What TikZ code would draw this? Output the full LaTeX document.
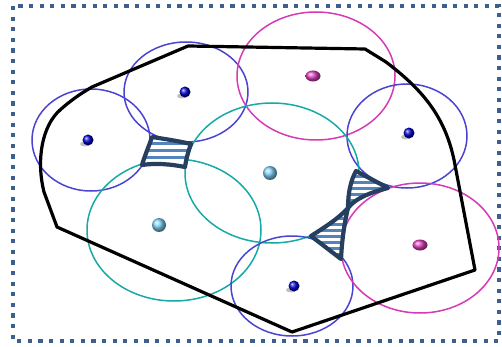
\documentclass[tikz,border=0pt]{standalone}
\usetikzlibrary{shapes.geometric}
\definecolor{bord}{HTML}{3D5F8F}
\definecolor{cblue}{HTML}{4B44D2}
\definecolor{cmag}{HTML}{D43BB4}
\definecolor{cteal}{HTML}{17A9A6}
\definecolor{navy}{HTML}{263F5E}
\definecolor{stripe}{HTML}{5584BD}
\definecolor{lball}{HTML}{7FD2F8}
\definecolor{mballc}{HTML}{E040C0}
\begin{document}
\begin{tikzpicture}[x=1pt,y=-1pt,
  zone/.style={line width=1.5pt},
  hull/.style={line width=3.2pt, black, line join=round},
  gap/.style={line width=4.2pt, navy, line join=round},
  dball/.style={circle, inner sep=0pt, minimum size=11pt, shading=ball, ball color=blue!80!black},
  lblue/.style={circle, inner sep=0pt, minimum size=14pt, shading=ball, ball color=lball},
  mball/.style={ellipse, inner sep=0pt, minimum width=15pt, minimum height=11pt, shading=ball, ball color=mballc},
  shad/.style={fill=black!45, opacity=0.55}]
\useasboundingbox (0,0) rectangle (502,347);
% border
\draw[bord, line width=4.2pt, dash pattern=on 4.2pt off 6.4pt] (13,6) rectangle (499,341);
% coverage zones
\draw[zone, cblue] (91,140) ellipse [x radius=59pt, y radius=51pt];
\draw[zone, cblue] (186,92) ellipse [x radius=62pt, y radius=50pt];
\draw[zone, cmag] (316,76) ellipse [x radius=79pt, y radius=64pt];
\draw[zone, cblue] (407,136) ellipse [x radius=60pt, y radius=52pt];
\draw[zone, cteal] (272,173) ellipse [x radius=87pt, y radius=70pt];
\draw[zone, cteal] (174,230) ellipse [x radius=87pt, y radius=71pt];
\draw[zone, cblue] (292,286) ellipse [x radius=61pt, y radius=50pt];
\draw[zone, cmag] (420,248) ellipse [x radius=79pt, y radius=65pt];
% area boundary
\draw[hull] (188,46) -- (365,49) -- (386,62) .. controls (420,88) and (446,115) .. (455,165)
  -- (475,270) -- (292,332) -- (57,227) -- (44,192) .. controls (36,160) and (42,126) .. (60,110)
  .. controls (70,101) and (80,94) .. (92,87) -- cycle;
% left coverage hole
\begin{scope}
  \clip (152,137) .. controls (165,139) and (178,141) .. (191,144) .. controls (188,152) and (186,160) .. (185,167)
    .. controls (170,164) and (155,163) .. (142,165) .. controls (145,155) and (149,146) .. (152,137) -- cycle;
  \fill[white] (130,120) rectangle (200,180);
  \foreach \yy in {142,149,156} {\fill[stripe] (130,\yy) rectangle (200,\yy+3.4);}
\end{scope}
\draw[gap] (152,137) .. controls (165,139) and (178,141) .. (191,144) .. controls (188,152) and (186,160) .. (185,167)
    .. controls (170,164) and (155,163) .. (142,165) .. controls (145,155) and (149,146) .. (152,137) -- cycle;
% right coverage hole (bow tie)
\begin{scope}
  \clip (356,171) -- (388,188) .. controls (368,193) and (355,199) .. (348,208) .. controls (348,192) and (351,180) .. (356,171) -- cycle;
  \fill[white] (340,165) rectangle (395,215);
  \foreach \yy in {175,181,187,193,199} {\fill[stripe] (340,\yy) rectangle (395,\yy+3);}
\end{scope}
\begin{scope}
  \clip (348,208) .. controls (344,225) and (342,240) .. (341,259) -- (311,236) .. controls (325,227) and (338,219) .. (348,208) -- cycle;
  \fill[white] (305,200) rectangle (355,265);
  \foreach \yy in {211,217,223,229,235,241,247,253} {\fill[stripe] (305,\yy) rectangle (355,\yy+3);}
\end{scope}
\draw[gap] (356,171) -- (388,188) .. controls (368,193) and (355,199) .. (348,208) .. controls (344,225) and (342,240) .. (341,259)
  -- (311,236) .. controls (325,227) and (338,219) .. (348,208) .. controls (348,192) and (351,180) .. (356,171) -- cycle;
% sensors
\foreach \p in {(85,144),(182,96),(406,137),(291,290)} {\fill[shad] \p ellipse [x radius=5pt, y radius=2.5pt];}
\node[dball] (s1) at (88,140) {};
\node[dball] (s2) at (185,92) {};
\node[dball] (s3) at (409,133) {};
\node[dball] (s4) at (294,286) {};
\node[lblue] (s5) at (270,173) {};
\node[lblue] (s6) at (159,225) {};
\node[mball] (s7) at (313,76) {};
\node[mball] (s8) at (420,245) {};
\end{tikzpicture}
\end{document}
